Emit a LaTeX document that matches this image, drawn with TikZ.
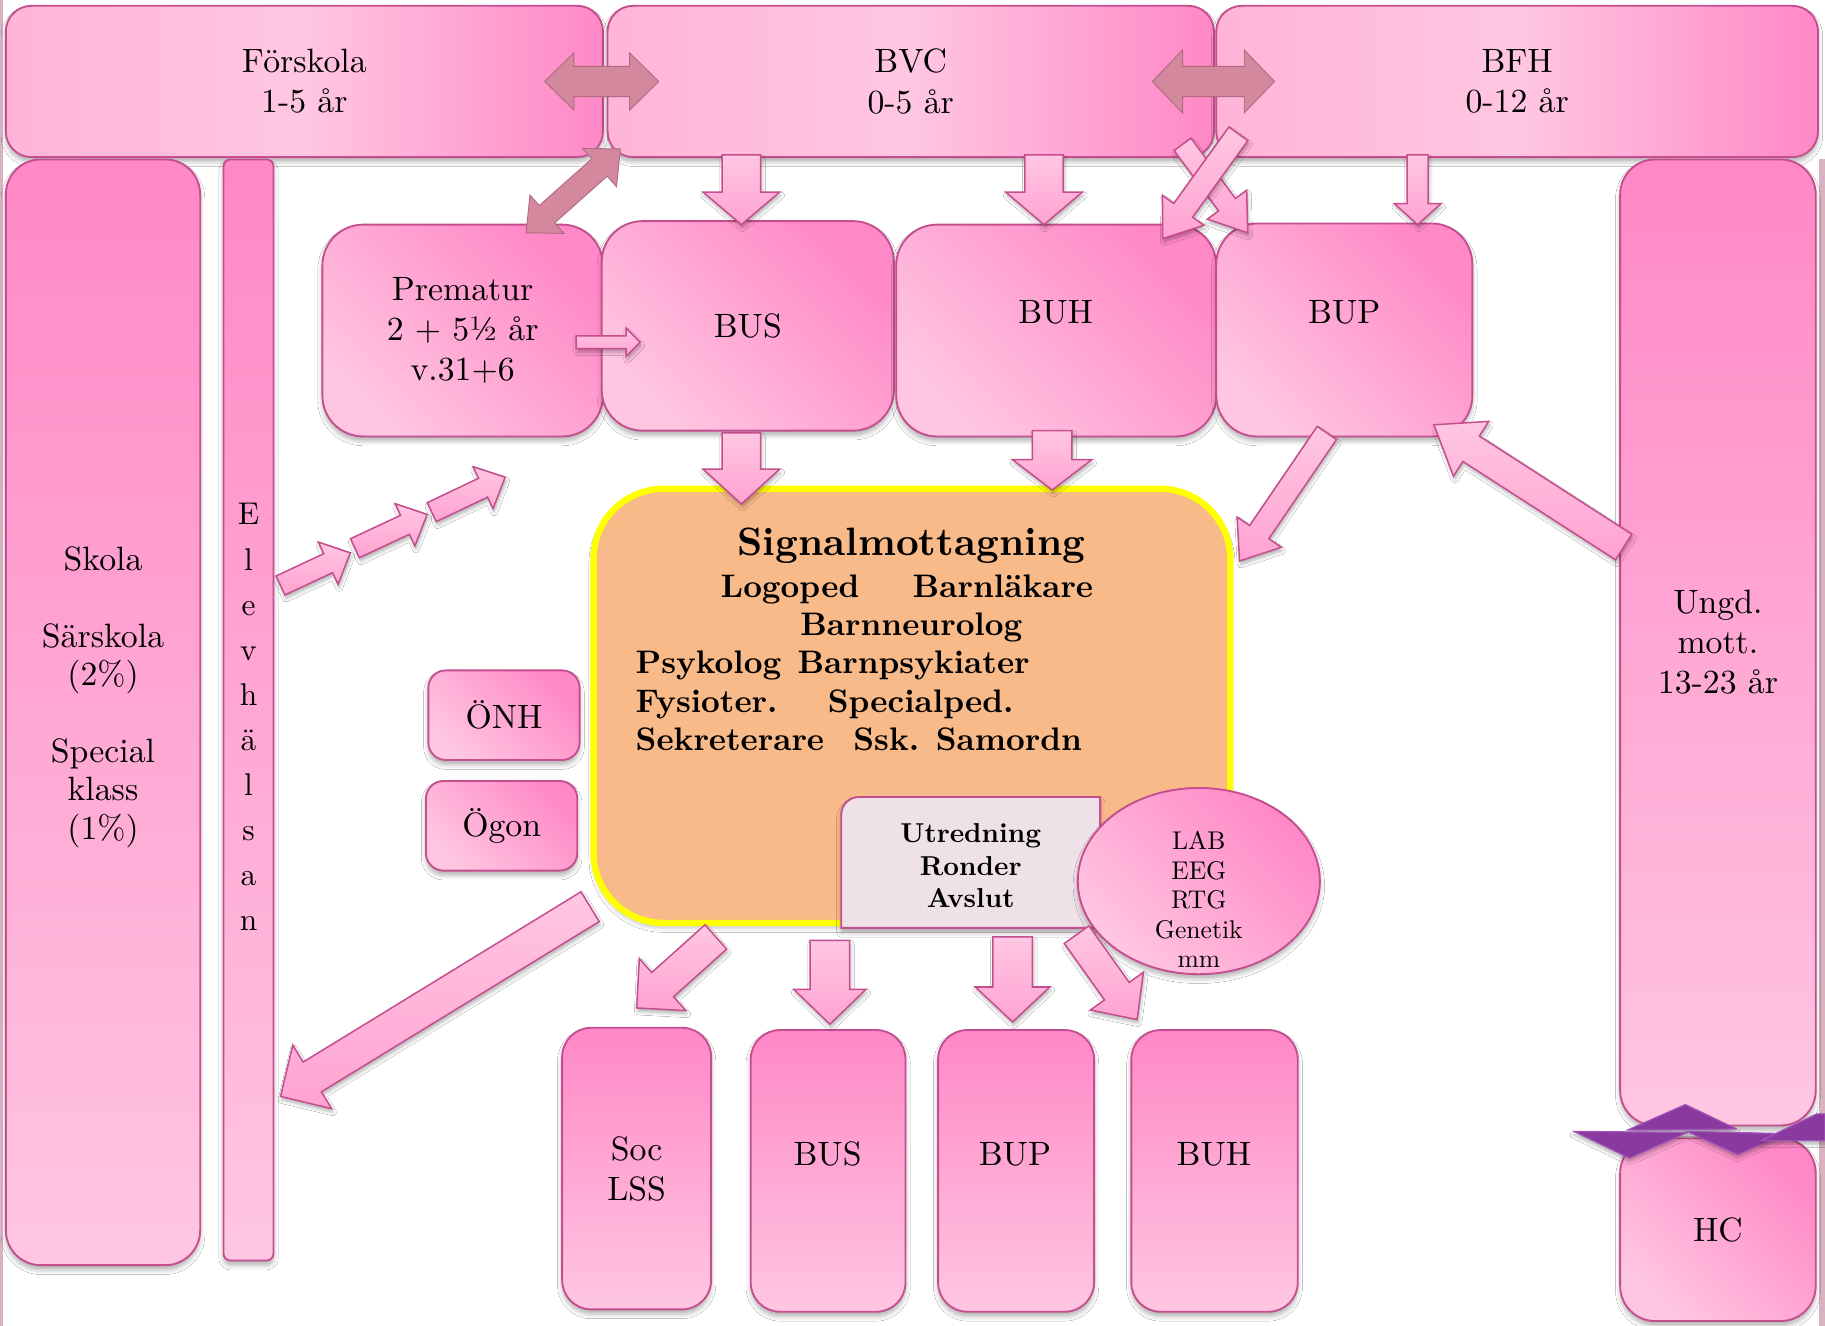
\documentclass[tikz,border=0pt]{standalone}
\usepackage{fontspec}
\setmainfont{lmroman10-regular}[Extension=.otf, BoldFont=lmroman10-bold, ItalicFont=lmroman10-italic, BoldItalicFont=lmroman10-bolditalic]
\usetikzlibrary{calc,shadows.blur,shapes.geometric}

\definecolor{pinkborder}{HTML}{C54E8E}
\definecolor{pinkdark}{HTML}{FF88C6}
\definecolor{pinklight}{HTML}{FFC6E2}
\definecolor{pinkleft}{HTML}{FFB4D8}
\definecolor{pinkmid}{HTML}{FFA3D2}
\definecolor{mauve}{HTML}{D4889E}
\definecolor{mauveborder}{HTML}{B06A82}
\definecolor{signalfill}{HTML}{F9BA8A}
\definecolor{sigyellow}{HTML}{FFFF00}
\definecolor{utrfill}{HTML}{EFE1E8}
\definecolor{ribbon}{HTML}{8A3A9E}
\definecolor{ribbonlight}{HTML}{A455BC}
\definecolor{edgestrip}{HTML}{D9B2C2}

\newcommand\lblfont{\fontsize{29}{34.5}\selectfont}
\newcommand\skolafont{\fontsize{29}{33}\selectfont}
\newcommand\elevfont{\fontsize{27}{38.7}\selectfont}
\newcommand\sighead{\fontsize{34}{38}\selectfont\bfseries}
\newcommand\sigfont{\fontsize{28}{33}\selectfont\bfseries}
\newcommand\utrfont{\fontsize{23.5}{28}\selectfont\bfseries}
\newcommand\labfont{\fontsize{22}{25.3}\selectfont}

\tikzset{
  boxbase/.style={draw=pinkborder, line width=1.6pt, inner sep=0pt, align=center, font=\lblfont,
    blur shadow={shadow xshift=0pt, shadow yshift=-4pt, shadow blur radius=4pt, shadow opacity=30}},
  hbox/.style={boxbase, rectangle, rounded corners=22pt, left color=pinkleft, right color=pinkdark, middle color=pinklight},
  vbox/.style={boxbase, rectangle, top color=pinkdark, bottom color=pinklight},
  dbox/.style={boxbase, rectangle, top color=pinkdark, bottom color=pinklight, shading angle=-45},
  ebox/.style={boxbase, ellipse, top color=pinkdark, bottom color=pinklight, shading angle=-45},
  sigbox/.style={draw=sigyellow, line width=5.5pt, fill=signalfill, rounded corners=60pt, inner sep=0pt,
    blur shadow={shadow xshift=0pt, shadow yshift=-4pt, shadow blur radius=4pt, shadow opacity=25}},
  utrshape/.style={draw=pinkborder, line width=1.6pt, fill=utrfill,
    blur shadow={shadow xshift=0pt, shadow yshift=-4pt, shadow blur radius=4pt, shadow opacity=30}},
  txt/.style={inner sep=0pt, align=center, text height=20pt, text depth=0pt},
  txtm/.style={inner sep=0pt, align=center},
  arrowstyle/.style={draw=pinkborder, line width=1.3pt, top color=pinklight, bottom color=pinkmid,
    blur shadow={shadow xshift=1pt, shadow yshift=-3pt, shadow blur radius=3pt, shadow opacity=30}},
  mauvestyle/.style={fill=mauve, draw=mauveborder, line width=0.8pt},
  ribbonstyle/.style={fill=ribbon, draw=ribbonlight, line width=1pt, line join=round,
    blur shadow={shadow xshift=0pt, shadow yshift=-3pt, shadow blur radius=3pt, shadow opacity=30}}
}

% single block arrow: start, tip, shaft half width, head half width, head length
\newcommand\pinkarrow[6][]{%
  \coordinate (baA) at (#2);
  \coordinate (baB) at (#3);
  \coordinate (baH) at ($(baB)!#6!(baA)$);
  \draw[arrowstyle,#1] ($(baA)!#4!90:(baB)$) -- ($(baH)!#4!90:(baB)$) -- ($(baH)!#5!90:(baB)$)
    -- (baB) -- ($(baH)!#5!-90:(baB)$) -- ($(baH)!#4!-90:(baB)$) -- ($(baA)!#4!-90:(baB)$) -- cycle;
}
% double block arrow
\newcommand\mauvearrow[6][]{%
  \coordinate (daA) at (#2);
  \coordinate (daB) at (#3);
  \coordinate (daH) at ($(daA)!#6!(daB)$);
  \coordinate (daK) at ($(daB)!#6!(daA)$);
  \draw[mauvestyle,#1] (daA) -- ($(daH)!#5!90:(daB)$) -- ($(daH)!#4!90:(daB)$) -- ($(daK)!#4!90:(daB)$)
    -- ($(daK)!#5!90:(daB)$) -- (daB) -- ($(daK)!#5!-90:(daB)$) -- ($(daK)!#4!-90:(daB)$)
    -- ($(daH)!#4!-90:(daB)$) -- ($(daH)!#5!-90:(daB)$) -- cycle;
}

\begin{document}
\begin{tikzpicture}[x=1pt,y=-1pt]
\useasboundingbox (0,0) rectangle (1568,1139);
\fill[white] (0,0) rectangle (1568,1139);
\fill[edgestrip] (0,0) rectangle (3,1139);
\fill[edgestrip] (1563,137) rectangle (1568,1139);

% top row
\node[hbox, minimum width=513pt, minimum height=130pt] (forskola) at (261.5,70) {Förskola\\1-5 år};
\node[hbox, minimum width=521pt, minimum height=130pt] (bvc) at (782.5,70) {BVC\\0-5 år};
\node[hbox, minimum width=517pt, minimum height=130pt] (bfh) at (1303.5,70) {BFH\\0-12 år};

% left columns
\node[vbox, rounded corners=30pt, minimum width=167pt, minimum height=950pt] (skola) at (88.5,612) {};
\node[txtm, font=\skolafont] (skolat) at (88.5,599) {Skola\\[33pt]Särskola\\(2\%)\\[33pt]Special\\klass\\(1\%)};
\node[vbox, rounded corners=6pt, minimum width=43pt, minimum height=946pt] (elev) at (213.5,610) {};
\node[txtm, font=\elevfont] (elevt) at (213.5,616) {E\\l\\e\\v\\h\\ä\\l\\s\\a\\n};

% second row
\node[dbox, rounded corners=35pt, minimum width=241pt, minimum height=182pt] (premat) at (397.5,284) {Prematur\\2 + 5½ år\\v.31+6};
\node[dbox, rounded corners=35pt, minimum width=251pt, minimum height=180pt] (bus) at (642.5,280) {BUS};
\node[dbox, rounded corners=35pt, minimum width=275pt, minimum height=182pt] (buh) at (907.5,284) {};
\node[txt, font=\lblfont] (buht) at (907,268) {BUH};
\node[dbox, rounded corners=35pt, minimum width=220pt, minimum height=183pt] (bup) at (1155,283.5) {};
\node[txt, font=\lblfont] (bupt) at (1155,268) {BUP};

% right column
\node[vbox, rounded corners=30pt, minimum width=168pt, minimum height=830pt] (ungd) at (1476,552) {Ungd.\\mott.\\13-23 år};
\node[dbox, rounded corners=30pt, minimum width=168pt, minimum height=157pt] (hc) at (1476,1056.5) {HC};

% small side boxes
\node[dbox, rounded corners=15pt, minimum width=130pt, minimum height=77pt] (onh) at (433,614.5) {ÖNH};
\node[dbox, rounded corners=15pt, minimum width=130pt, minimum height=77pt] (ogon) at (431,709.5) {Ögon};

% Signalmottagning
\node[sigbox, minimum width=547pt, minimum height=373pt] (signal) at (783.5,606.5) {};
\node[txt, font=\sighead] (sigt) at (783,467) {Signalmottagning};
\node[txt, font=\sigfont, anchor=west] (logo) at (619,503) {Logoped};
\node[txt, font=\sigfont, anchor=west] (barnl) at (784,503) {Barnläkare};
\node[txt, font=\sigfont] (barnn) at (783,536) {Barnneurolog};
\node[txt, font=\sigfont, anchor=west] (psyk) at (546,569) {Psykolog};
\node[txt, font=\sigfont, anchor=west] (barnp) at (685,569) {Barnpsykiater};
\node[txt, font=\sigfont, anchor=west] (fysio) at (546,602) {Fysioter.};
\node[txt, font=\sigfont, anchor=west] (spec) at (711,602) {Specialped.};
\node[txt, font=\sigfont, anchor=west] (sekr) at (546,635) {Sekreterare};
\node[txt, font=\sigfont, anchor=west] (ssk) at (733,635) {Ssk. Samordn};

% Utredning
\node[inner sep=0pt, minimum width=222pt, minimum height=112pt] (utr) at (834,741) {};
\draw[utrshape] (utr.south west) [rounded corners=15pt] -- (utr.north west) [sharp corners] -- (utr.north east) -- (utr.south east) -- cycle;
\node[txtm, font=\utrfont] (utrt) at (834,744) {Utredning\\Ronder\\Avslut};

% LAB ellipse
\node[ebox, minimum width=208pt, minimum height=160pt] (lab) at (1030,757) {};
\node[txtm, font=\labfont] (labt) at (1030,773) {LAB\\EEG\\RTG\\Genetik\\mm};

% bottom row
\node[vbox, rounded corners=25pt, minimum width=128pt, minimum height=242pt] (soc) at (547,1004) {Soc\\LSS};
\node[vbox, rounded corners=25pt, minimum width=133pt, minimum height=242pt] (bus2) at (711.5,1006) {};
\node[txt, font=\lblfont] (bus2t) at (711,991) {BUS};
\node[vbox, rounded corners=25pt, minimum width=134pt, minimum height=242pt] (bup2) at (873,1006) {};
\node[txt, font=\lblfont] (bup2t) at (872,991) {BUP};
\node[vbox, rounded corners=25pt, minimum width=143pt, minimum height=242pt] (buh2) at (1043.5,1006) {};
\node[txt, font=\lblfont] (buh2t) at (1043,991) {BUH};

% pink block arrows
\pinkarrow{637,133}{637,193}{16.5pt}{33pt}{28pt}
\pinkarrow{897,133}{897,193}{16.5pt}{33pt}{28pt}
\pinkarrow{1218,133}{1218,193}{9pt}{20pt}{18pt}
\pinkarrow{1016,124}{1072,200}{9pt}{21pt}{30pt}
\pinkarrow{1064,115}{999,205}{10pt}{22pt}{30pt}
\pinkarrow{637,372}{637,433}{16.5pt}{33pt}{30pt}
\pinkarrow{904,370}{904,421}{17pt}{34pt}{26pt}
\pinkarrow{1140,372}{1065,482}{10pt}{23pt}{30pt}
\pinkarrow{1395,470}{1232,365}{13pt}{28pt}{38pt}
\pinkarrow{495,294}{550,294}{5.5pt}{12pt}{12pt}
\pinkarrow{241,503}{301,475}{9pt}{20pt}{21pt}
\pinkarrow{305,471}{367,442}{9pt}{20pt}{21pt}
\pinkarrow{371,440}{434,410}{9pt}{20pt}{21pt}
\pinkarrow{507,779}{241,942}{15pt}{32pt}{32pt}
\pinkarrow{615,805}{547,866}{14pt}{30pt}{30pt}
\pinkarrow{713,808}{713,880}{17pt}{31pt}{30pt}
\pinkarrow{870,805}{870,878}{17pt}{32pt}{30pt}
\pinkarrow{925,803}{977,876}{13pt}{28pt}{30pt}

% mauve double arrows
\mauvearrow{468,70}{566,70}{13pt}{24.5pt}{25pt}
\mauvearrow{990,70}{1095,70}{13pt}{27pt}{26pt}
\mauvearrow{533,128}{452,200}{10pt}{22pt}{24pt}

% purple ribbon
\draw[ribbonstyle] (1398,971) -- (1448,949) -- (1492,970) -- cycle;
\draw[ribbonstyle] (1352,972) -- (1450,973) -- (1400,995) -- cycle;
\draw[ribbonstyle] (1449,972) -- (1534,974) -- (1493,992) -- cycle;
\draw[ribbonstyle] (1513,980) -- (1561,957) -- (1568,957) -- (1568,980) -- cycle;
\end{tikzpicture}
\end{document}
